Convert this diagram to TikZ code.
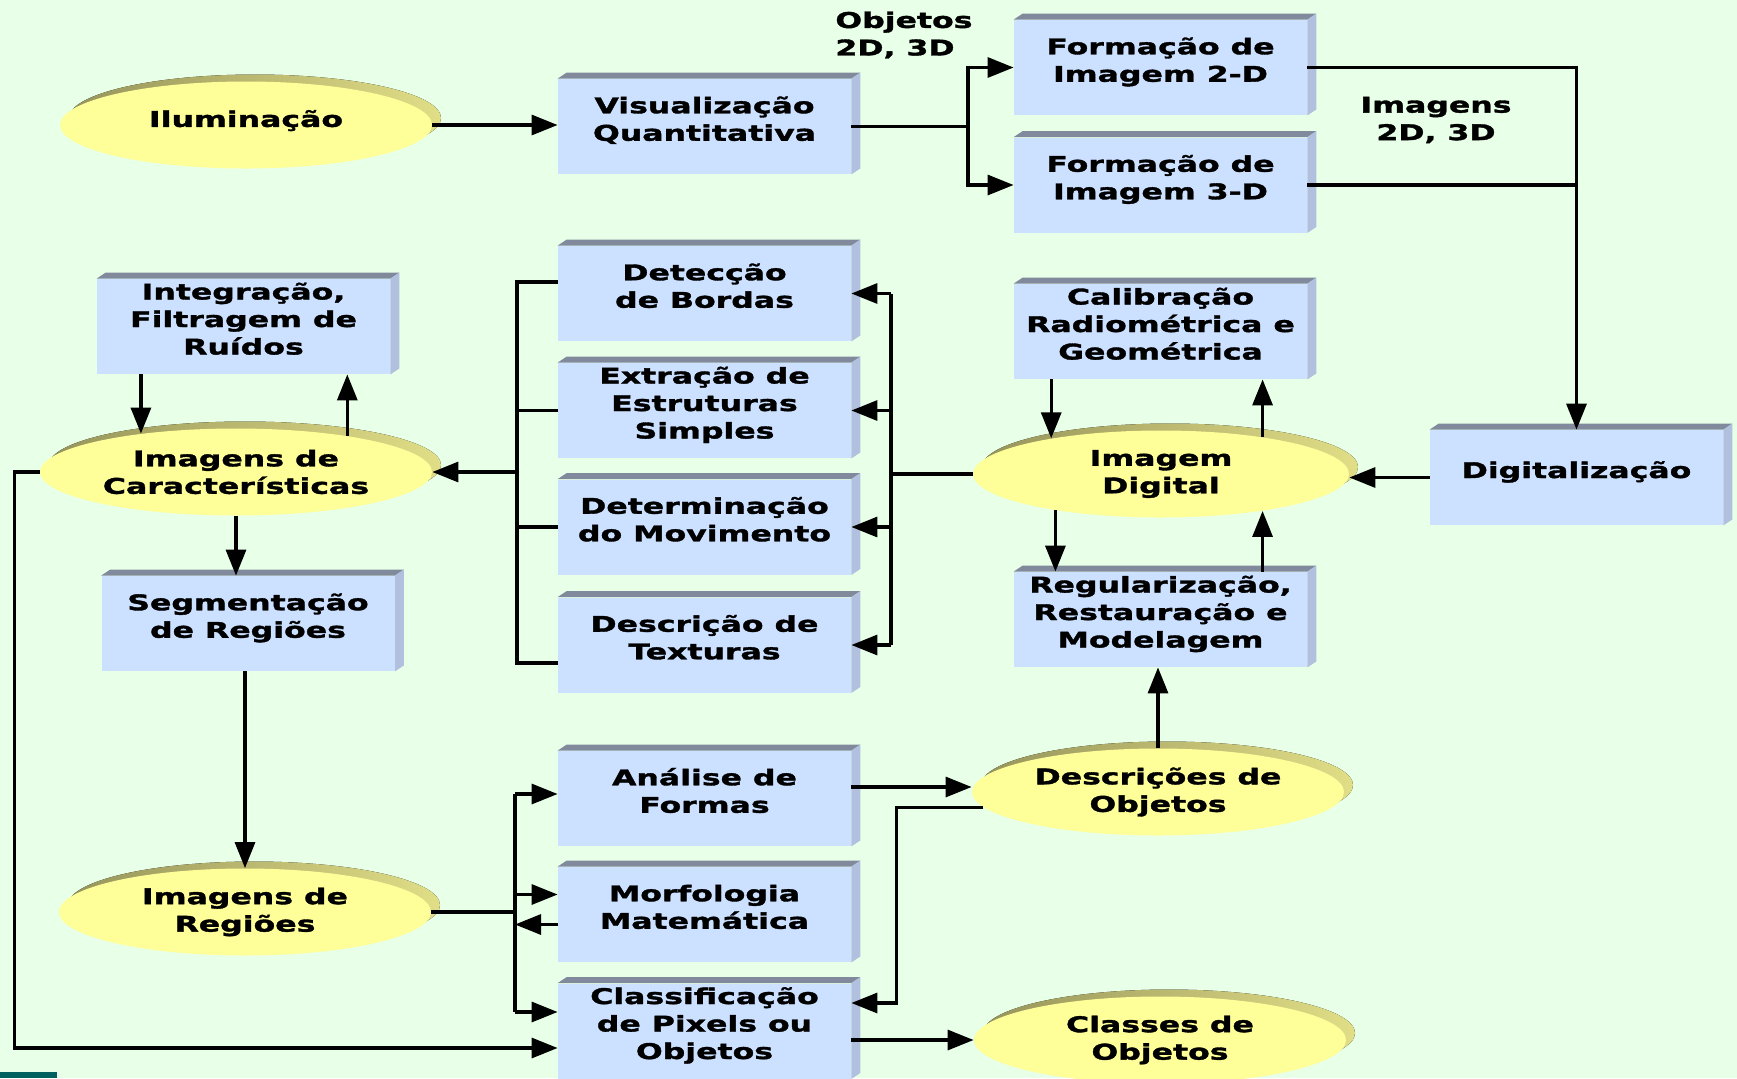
\documentclass[tikz,border=0pt]{standalone}
\usepackage{fontspec}
\newfontfamily\lblfam{DejaVu Sans Bold}[FakeStretch=1.46,FakeBold=1.6]
\usetikzlibrary{arrows.meta,shapes.geometric,calc}
\definecolor{bgc}{RGB}{232,255,232}
\definecolor{boxfront}{RGB}{204,224,255}
\definecolor{boxtop}{RGB}{128,138,156}
\definecolor{boxside}{RGB}{176,192,222}
\definecolor{ovalfill}{RGB}{255,255,153}
\definecolor{shA}{RGB}{150,148,90}
\definecolor{shB}{RGB}{160,158,96}
\definecolor{shC}{RGB}{225,222,135}
\definecolor{tealc}{RGB}{0,96,96}
\newcommand\lbl{\lblfam\fontsize{10.8}{13.75}\selectfont}
\newcommand\bx[1]{\raisebox{2.5pt}[\height][\depth]{\begin{tabular}{@{}c@{}}#1\end{tabular}}}
\pgfdeclarelayer{bglayer}
\pgfdeclarelayer{shadowlayer}
\pgfsetlayers{bglayer,shadowlayer,main}
\tikzset{
  box/.style={rectangle, fill=boxfront, minimum width=146.5pt, minimum height=47.5pt, inner sep=0pt, font=\lbl},
  oval/.style={ellipse, fill=ovalfill, minimum width=186pt, minimum height=43.5pt, inner sep=0pt, font=\lbl, align=center},
  lab/.style={font=\lbl, inner sep=0pt},
  ln/.style={line width=1.6pt},
  arr/.style={line width=1.6pt, -{Triangle[length=13pt,width=10pt]}},
  shadowsh/.style={left color=shA, middle color=shB, right color=shC},
}
\begin{document}
\begin{tikzpicture}[x=0.5pt,y=-0.5pt]
\useasboundingbox (0,0) rectangle (1737,1078);
\begin{pgfonlayer}{bglayer}
  \fill[bgc] (0,0) rectangle (1737,1078);
  \fill[tealc] (0,1072) rectangle (57,1078);
\end{pgfonlayer}

% ellipses
\node[oval] (ilu) at (246,125) {\raisebox{2.2pt}[\height][\depth]{Iluminação}};
\node[oval, minimum width=196pt] (car) at (236,472) {Imagens de\\Características};
\node[oval] (regi) at (245,912) {Imagens de\\Regiões};
\node[oval, minimum width=188pt] (imd) at (1161,474) {Imagem\\Digital};
\node[oval] (des) at (1158,792) {Descrições de\\Objetos};
\node[oval] (cls) at (1160,1040) {Classes de\\Objetos};

% boxes
\node[box] (vis) at (704.5,126.5) {\bx{Visualização\\Quantitativa}};
\node[box] (f2) at (1160.5,67.5) {\bx{Formação de\\Imagem 2-D}};
\node[box] (f3) at (1160.5,185) {\bx{Formação de\\Imagem 3-D}};
\node[box] (det) at (704.5,293.5) {\bx{Detecção\\de Bordas}};
\node[box] (ext) at (704.5,410.5) {\bx{Extração de\\Estruturas\\Simples}};
\node[box] (mov) at (704.5,527) {\bx{Determinação\\do Movimento}};
\node[box] (tex) at (704.5,645) {\bx{Descrição de\\Texturas}};
\node[box] (integ) at (243.5,326.5) {\bx{Integração,\\Filtragem de\\Ruídos}};
\node[box] (seg) at (248,623.5) {\bx{Segmentação\\de Regiões}};
\node[box] (cal) at (1160.5,331.5) {\bx{Calibração\\Radiométrica e\\Geométrica}};
\node[box] (reg) at (1160.5,619.5) {\bx{Regularização,\\Restauração e\\Modelagem}};
\node[box] (dig) at (1576.5,477.5) {\bx{Digitalização}};
\node[box] (ana) at (704.5,798.5) {\bx{Análise de\\Formas}};
\node[box] (mor) at (704.5,914.5) {\bx{Morfologia\\Matemática}};
\node[box] (cla) at (704.5,1031) {\bx{Classificação\\de Pixels ou\\Objetos}};

% free labels
\node[lab, anchor=west, align=left] (objt) at (835,35) {Objetos\\2D, 3D};
\node[lab, align=center] (imgt) at (1436,120) {Imagens\\2D, 3D};

% 3D faces and shadows
\begin{pgfonlayer}{shadowlayer}
  \foreach \n in {vis,f2,f3,det,ext,mov,tex,integ,seg,cal,reg,dig,ana,mor,cla}{
    \fill[boxtop] (\n.north west) -- ++(9,-6) -- ([shift={(9,-6)}]\n.north east) -- (\n.north east) -- cycle;
    \fill[boxside] (\n.north east) -- ++(9,-6) -- ([shift={(9,-6)}]\n.south east) -- (\n.south east) -- cycle;
  }
  \foreach \n/\rx in {ilu/93,car/98,regi/93,imd/94,des/93,cls/93}{
    \fill[shadowsh] ([shift={(9,-7)}]\n.center) ellipse [x radius=\rx pt, y radius=21.75pt];
  }
\end{pgfonlayer}

% connectors: top row
\draw[arr] (ilu.east) -- (ilu.east -| vis.west);
\coordinate (j1) at (968,126.5);
\draw[ln] (vis.east) -- (j1);
\draw[arr] (j1) |- (f2.west);
\draw[arr] (j1) |- (f3.west);
\draw[arr] (f2.east) -| (dig.north);
\draw[ln] (f3.east) -- (f3.east -| dig.north);
\draw[arr] (dig.west) -- (dig.west -| imd.east);

% Imagem Digital and its neighbours
\draw[arr] (cal.south -| imd.162) -- (imd.162);
\draw[arr] (imd.20) -- (imd.20 |- cal.south);
\draw[arr] (imd.199) -- (imd.199 |- reg.north);
\draw[arr] (reg.north -| imd.340) -- (imd.340);
\draw[arr] (des.north) -- (des.north |- reg.south);

% right bus to feature boxes
\coordinate (b2) at (891,474);
\draw[ln] (imd.west) -- (b2);
\draw[ln] (det.east -| b2) -- (tex.east -| b2);
\draw[arr] (det.east -| b2) -- (det.east);
\draw[arr] (ext.east -| b2) -- (ext.east);
\draw[arr] (mov.east -| b2) -- (mov.east);
\draw[arr] (tex.east -| b2) -- (tex.east);

% left bus to Imagens de Caracteristicas
\coordinate (b1) at (517,472);
\draw[ln] ([yshift=5.75pt]det.west) -| ([yshift=-9pt]tex.west -| b1) -- ([yshift=-9pt]tex.west);
\draw[ln] (ext.west) -- (ext.west -| b1);
\draw[ln] (mov.west) -- (mov.west -| b1);
\draw[arr] (b1) -- (car.east);

% left column
\draw[arr] (integ.south -| car.158) -- (car.158);
\draw[arr] (car.18) -- (car.18 |- integ.south);
\draw[arr] (car.south) -- (car.south |- seg.north);
\draw[arr] (seg.south -| regi.north) -- (regi.north);
\draw[arr] (car.west) -- ++(-25,0) |- ([yshift=-8.5pt]cla.west);

% bottom bus
\coordinate (b3) at (515,912);
\coordinate (ta) at ([yshift=2.25pt]ana.west);
\coordinate (tm) at ([yshift=10pt]mor.west);
\coordinate (tmb) at ([yshift=-5pt]mor.west);
\coordinate (tc) at ([yshift=9.5pt]cla.west);
\draw[ln] (regi.east) -- (b3);
\draw[ln] (ta -| b3) -- (tc -| b3);
\draw[arr] (ta -| b3) -- (ta);
\draw[arr] (tm -| b3) -- (tm);
\draw[arr] (tc -| b3) -- (tc);
\draw[arr] (tmb) -- (tmb -| b3);

% descriptions / classes
\draw[arr] ([yshift=5.75pt]ana.east) -- ([yshift=5.75pt]ana.east -| des.west);
\draw[arr] (des.185) -- ++(-87,0) |- ([yshift=14pt]cla.east);
\draw[arr] (cla.east |- cls.west) -- (cls.west);
\end{tikzpicture}
\end{document}
